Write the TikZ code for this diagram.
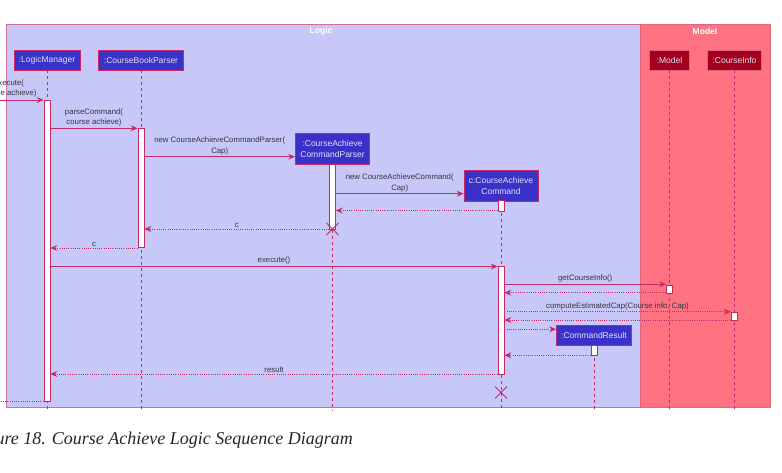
\documentclass[tikz,border=0pt]{standalone}
\usepackage{fontspec}
\setmainfont{Liberation Sans}
\newfontfamily\capfont{Liberation Serif}
\usetikzlibrary{arrows.meta,shapes.misc}
\definecolor{logicbg}{HTML}{C8C8F8}
\definecolor{modelbg}{HTML}{FF7282}
\definecolor{framecol}{HTML}{D0709A}
\definecolor{modelframe}{HTML}{E06680}
\definecolor{linecol}{HTML}{C42A66}
\definecolor{partblue}{HTML}{3A32C8}
\definecolor{partred}{HTML}{A2001E}
\definecolor{parttext}{HTML}{E4E0FA}
\definecolor{txtcol}{HTML}{333340}
\begin{document}
\begin{tikzpicture}[x=1pt,y=-1pt,
  part/.style={draw=linecol, line width=0.8pt, fill=partblue, text=parttext, inner sep=0pt, align=center, font=\fontsize{8.5}{11}\selectfont},
  partm/.style={part, fill=partred, draw=modelframe},
  act/.style={draw=linecol, line width=0.7pt, fill=white, minimum width=6pt, inner sep=0pt},
  lifeline/.style={draw=linecol, line width=0.8pt, dash pattern=on 3pt off 3pt},
  msg/.style={draw=linecol, line width=0.8pt, -{Stealth[length=7pt,width=6pt,inset=2.5pt]}},
  ret/.style={msg, dash pattern=on 1pt off 1.2pt},
  lbl/.style={text=txtcol, inner sep=0.5pt, align=center, font=\fontsize{7.8}{10.5}\selectfont},
  frametitle/.style={text=white, font=\bfseries\fontsize{8.5}{10}\selectfont},
  destroy/.style={draw=linecol, cross out, minimum size=11pt, inner sep=0pt, line width=1pt}
]
\useasboundingbox (0,0) rectangle (782,473);
\fill[white] (0,0) rectangle (782,473);
% frames
\node[draw=framecol, fill=logicbg, line width=1pt, minimum width=634pt, minimum height=383pt, inner sep=0pt] (logic) at (323,216) {};
\node[draw=modelframe, fill=modelbg, line width=1pt, minimum width=130pt, minimum height=383pt, inner sep=0pt] (model) at (705,216) {};
\node[frametitle] (logicT) at (321,31.5) {Logic};
\node[frametitle] (modelT) at (705,31.5) {Model};
\coordinate (bot) at (0,411);
% participants
\node[part, minimum width=66pt, minimum height=20pt] (lm) at (47,60) {:LogicManager};
\node[part, minimum width=85pt, minimum height=20pt] (cbp) at (141,60) {:CourseBookParser};
\node[part, minimum width=74pt, minimum height=31pt] (cacp) at (332.5,148.5) {:CourseAchieve\\CommandParser};
\node[part, minimum width=74pt, minimum height=31pt] (cac) at (501,185.5) {c:CourseAchieve\\Command};
\node[partm, minimum width=40pt, minimum height=20pt] (mdl) at (669.5,60) {:Model};
\node[partm, minimum width=54pt, minimum height=20pt] (ci) at (734.5,60) {:CourseInfo};
\node[part, minimum width=75pt, minimum height=20pt] (cr) at (594,335.3) {:CommandResult};
% lifelines
\foreach \p in {lm,cbp,cacp,cac,mdl,ci,cr}
  \draw[lifeline] (\p.south) -- (\p.south |- bot);
% activation bars
\node[act, minimum height=301pt] (lmA) at (47,250.5) {};
\node[act, minimum height=119.5pt] (cbpA) at (141,187.75) {};
\node[act, minimum height=65pt] (cacpA) at (332.5,196.5) {};
\node[act, minimum height=10.5pt] (cacA) at (501,205.75) {};
\node[act, minimum height=108.5pt] (cacB) at (501,320.25) {};
\node[act, minimum height=8pt] (mdlA) at (669.5,289) {};
\node[act, minimum height=8.5pt] (ciA) at (734,316.25) {};
\node[act, minimum height=10.5pt] (crA) at (594,350.25) {};
% message levels
\coordinate (left0) at (0,100);
\coordinate (left1) at (0,401);
\coordinate (y1) at (0,128.3);
\coordinate (y2) at (0,156.7);
\coordinate (y3) at (0,193.7);
\coordinate (y4) at (0,210.5);
\coordinate (y5) at (0,229);
\coordinate (y6) at (0,248);
\coordinate (y7) at (0,266.5);
\coordinate (y8) at (0,284.3);
\coordinate (y9) at (0,292.7);
\coordinate (y10) at (0,311.7);
\coordinate (y11) at (0,320);
\coordinate (y12) at (0,329.3);
\coordinate (y13) at (0,355.3);
\coordinate (y14) at (0,374);
% messages
\draw[msg] (left0) -- (lmA.west |- left0);
\node[lbl, anchor=south] (lexec) at (9,98) {execute(\\course achieve)};
\draw[msg] (lmA.east |- y1) -- node[lbl, above=1pt] (l1) {parseCommand(\\course achieve)} (cbpA.west |- y1);
\draw[msg] (cbpA.east |- y2) -- node[lbl, above=1pt] (l2) {new CourseAchieveCommandParser(\\Cap)} (cacp.west |- y2);
\draw[msg] (cacpA.east |- y3) -- node[lbl, above=1pt] (l3) {new CourseAchieveCommand(\\Cap)} (cac.west |- y3);
\draw[ret] (cacA.west |- y4) -- (cacpA.east |- y4);
\draw[ret] (cacpA.west |- y5) -- node[lbl, above=1pt] (l5) {c} (cbpA.east |- y5);
\draw[ret] (cbpA.west |- y6) -- node[lbl, above=1pt] (l6) {c} (lmA.east |- y6);
\draw[msg] (lmA.east |- y7) -- node[lbl, above=1pt] (l7) {execute()} (cacB.west |- y7);
\draw[msg] (cacB.east |- y8) -- node[lbl, above=1pt] (l8) {getCourseInfo()} (mdlA.west |- y8);
\draw[ret] (mdlA.west |- y9) -- (cacB.east |- y9);
\draw[ret] (cacB.east |- y10) -- node[lbl, above=1pt] (l10) {computeEstimatedCap(Course info, Cap)} (ciA.west |- y10);
\draw[ret] (ciA.west |- y11) -- (cacB.east |- y11);
\draw[ret] (cacB.east |- y12) -- (cr.west |- y12);
\draw[ret] (crA.west |- y13) -- (cacB.east |- y13);
\draw[ret] (cacB.west |- y14) -- node[lbl, above=1pt] (l14) {result} (lmA.east |- y14);
\draw[ret, -] (lmA.west |- left1) -- (left1);
% destroy marks
\node[destroy] (x1) at (332.5,229) {};
\node[destroy] (x2) at (501,392.5) {};
% caption
\node[anchor=base east, inner sep=0pt, text=black!85, font=\capfont\itshape\fontsize{18}{20}\selectfont] (cap) at (353,444) {Figure 18. Course Achieve Logic Sequence Diagram};
\end{tikzpicture}
\end{document}
